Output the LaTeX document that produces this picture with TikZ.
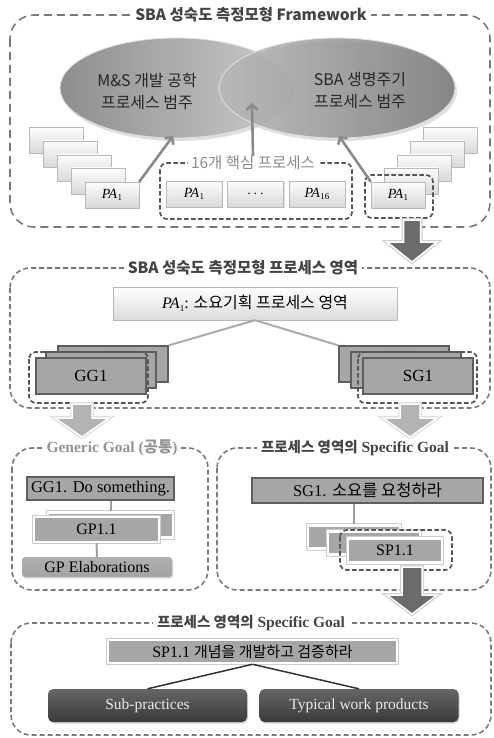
\documentclass[tikz,border=0pt]{standalone}
\usepackage{fontspec}
\setmainfont{Liberation Serif}
\newfontfamily\kr{Noto Sans CJK KR}
\usetikzlibrary{shadows,arrows.meta}
\definecolor{frm}{HTML}{7A7A7A}
\definecolor{grp}{HTML}{555555}
\definecolor{ttlc}{HTML}{444444}
\definecolor{midbox}{HTML}{A6A6A6}
\definecolor{midedge}{HTML}{5E5E5E}
\definecolor{ellLa}{HTML}{8E8E8E}
\definecolor{ellLb}{HTML}{CCCCCC}
\definecolor{ellRa}{HTML}{B8B8B8}
\definecolor{ellRb}{HTML}{737373}
\definecolor{arrD}{HTML}{6B6B6B}
\definecolor{arrL}{HTML}{B3B3B3}
\definecolor{conn}{HTML}{8A8A8A}
\newcommand\pasub[1]{{\rmfamily\textit{PA}\kern0.3pt\raisebox{-0.35ex}{\fontsize{9}{9}\selectfont #1}}}
\newcommand\barrow[7]{\path[#1] ({#2-#6},#3) -- ({#2+#6},#3) -- ({#2+#6},#4) -- ({#2+#7},#4) -- (#2,#5) -- ({#2-#7},#4) -- ({#2-#6},#4) -- cycle;}
\begin{document}
\begin{tikzpicture}[x=1pt,y=-1pt,
 frame/.style={draw=frm, line width=1.6pt, dash pattern=on 5pt off 3pt, rounded corners=20pt},
 ttl/.style={fill=white, inner xsep=4pt, inner ysep=1pt, text=ttlc, font=\kr\bfseries\fontsize{15.5}{17}\selectfont},
 ttlb/.style={fill=white, inner xsep=4pt, inner ysep=1pt, text=ttlc, font=\fontsize{15.5}{17}\selectfont},
 grpbox/.style={draw=grp, line width=1.7pt, dash pattern=on 4.5pt off 2.5pt, rounded corners=7pt},
 lbox/.style={draw=gray!55, top color=gray!2, bottom color=gray!30, minimum width=54pt, minimum height=26pt, inner sep=0pt, font=\fontsize{14}{14}\selectfont, drop shadow={shadow xshift=1.2pt, shadow yshift=-1.2pt, opacity=0.25}},
 ellt/.style={align=center, text=black!85, font=\kr\fontsize{16}{22}\selectfont},
 cline/.style={draw=conn, line width=2.6pt, -{Straight Barb[length=5pt, width=11pt]}},
 darr/.style={fill=arrD, draw=white, line width=1.5pt, preaction={draw=gray!35, line width=4pt}},
 larr/.style={fill=arrL, draw=white, line width=1.5pt, preaction={draw=gray!25, line width=4pt}},
 pabox/.style={draw=gray!55, top color=white, bottom color=gray!28, minimum width=284pt, minimum height=33pt, inner sep=0pt, font=\kr\fontsize{16}{16}\selectfont, drop shadow={shadow xshift=1.2pt, shadow yshift=-1.2pt, opacity=0.25}},
 gbox/.style={draw=midedge, fill=midbox, line width=1.2pt, minimum width=110pt, minimum height=36pt, inner sep=0pt, font=\fontsize{17}{17}\selectfont},
 pline/.style={draw=gray!65, line width=2pt},
 pline2/.style={draw=gray!75, line width=2pt},
 gg/.style={draw=midedge, fill=midbox, line width=1.2pt, inner sep=0pt, font=\fontsize{16.5}{16.5}\selectfont},
 wbox/.style={fill=midbox, draw=white, line width=2.5pt, inner sep=0pt, font=\fontsize{16}{16}\selectfont, preaction={draw=gray!40, line width=4.5pt}},
 dbox/.style={top color=gray!62, bottom color=gray!128!black, rounded corners=3pt, inner sep=0pt, font=\fontsize{16}{16}\selectfont, drop shadow={shadow xshift=1pt, shadow yshift=-1.5pt, opacity=0.3}},
 ddbox/.style={top color=gray!80!black, bottom color=gray!45!black, rounded corners=5pt, inner sep=0pt, text=white!92!black, minimum width=199pt, minimum height=33pt, font=\fontsize{15.5}{15.5}\selectfont, drop shadow={shadow xshift=1pt, shadow yshift=-1.5pt, opacity=0.35}}
]
\useasboundingbox[fill=white] (0,0) rectangle (494,738);

% ---------------- Section 1 ----------------
\draw[frame, dash pattern=on 8pt off 5pt, rounded corners=24pt] (10,15) rectangle (490,227);
\node[ttl] (t1) at (251,15) {SBA 성숙도 측정모형 Framework};

\fill[gray, opacity=0.25] (178,91) ellipse [x radius=116, y radius=50];
\fill[gray, opacity=0.25] (339,91) ellipse [x radius=118, y radius=50];
\path[draw=gray!25, line width=0.8pt, left color=ellLa, right color=ellLb] (176,88) ellipse [x radius=116, y radius=50];
\path[draw=gray!25, line width=0.8pt, left color=ellRa, right color=ellRb, fill opacity=0.82] (337,88) ellipse [x radius=118, y radius=50];
\node[ellt] (m1) at (147,91) {M\&S 개발 공학\\프로세스 범주};
\node[ellt] (m2) at (360,91) {SBA 생명주기\\프로세스 범주};
\coordinate (eL) at (173,136);
\coordinate (eC) at (252,103);
\coordinate (eR) at (339,136);

\node[lbox] (l1) at (56,140) {};
\node[lbox] (l2) at (70,154) {};
\node[lbox] (l3) at (84,168) {};
\node[lbox] (l4) at (98,181) {};
\node[lbox] (l5) at (112,195) {\pasub{1}};

\node[lbox] (r1) at (450,140) {};
\node[lbox] (r2) at (437,154) {};
\node[lbox] (r3) at (424,168) {};
\node[lbox] (r4) at (411,181) {};
\node[lbox] (r5) at (398,195) {\pasub{1}};
\draw[grpbox] (365,175) rectangle (433,218);

\node[lbox, minimum width=56pt] (c1) at (194,194) {\pasub{1}};
\node[lbox, minimum width=56pt] (c2) at (255.5,194) {$\cdots$};
\node[lbox, minimum width=56pt] (c3) at (317,194) {\pasub{16}};
\draw[grpbox] (160,163) rectangle (352,219);
\node[fill=white, inner xsep=3pt, inner ysep=0pt, text=gray!90, font=\kr\fontsize{15.5}{16}\selectfont] (g16) at (253,163) {16개 핵심 프로세스};

\draw[cline] (l5.north east) -- (eL);
\draw[cline] (g16.north) -- (eC);
\draw[cline] (r5.north west) -- (eR);

% ---------------- Section 2 ----------------
\draw[frame] (10,268) rectangle (490,408);
\node[ttl] (t2) at (243,268) {SBA 성숙도 측정모형 프로세스 영역};
\barrow{darr}{412}{220}{242}{262}{8.5}{25}

\node[pabox] (pa) at (255,303.5) {\pasub{1}{\rmfamily :} {\kr 소요기획 프로세스 영역}};

\node[gbox] (gb1) at (113,364) {};
\node[gbox] (gb2) at (101,370) {};
\node[gbox] (gb3) at (91,376) {GG1};
\draw[grpbox] (29,352) rectangle (148,403);

\node[gbox] (sb1) at (394,364) {};
\node[gbox] (sb2) at (406,370) {};
\node[gbox] (sb3) at (418,376) {SG1};
\draw[grpbox] (358,352) rectangle (477,403);

\draw[pline] (pa.south) -- (gb1.north east);
\draw[pline] (pa.south) -- (sb1.north west);

% ---------------- Section 3 ----------------
\draw[frame] (12,448) rectangle (208,590);
\node[ttlb, text=gray!85] (t3a) at (112,448) {\bfseries Generic Goal ({\kr 공통})};
\draw[frame] (217,448) rectangle (491,590);
\node[ttlb] (t3b) at (355,448) {{\kr\bfseries\fontsize{14.5}{16}\selectfont 프로세스 영역의} \textbf{Specific Goal}};

\barrow{larr}{82}{404}{418}{437}{10}{27}
\barrow{larr}{410}{404}{418}{437}{10}{27}

\node[gg, minimum width=147pt, minimum height=23pt] (gg) at (100.5,488.5) {GG1. Do something.};
\node[wbox, minimum width=125pt, minimum height=25pt] (gp1) at (110.5,525) {};
\node[wbox, minimum width=125pt, minimum height=25pt] (gp2) at (96.5,529.5) {GP1.1};
\node[dbox, minimum width=150pt, minimum height=20pt] (ge) at (97,567) {GP Elaborations};
\draw[pline2] (gp1.north |- gg.south) -- (gp1.north);
\draw[pline2] (gp2.south) -- (ge.north);

\node[gg, minimum width=231pt, minimum height=25pt] (sg) at (367.5,490.5) {SG1. {\kr\fontsize{16.5}{16.5}\selectfont 소요를 요청하라}};
\node[wbox, minimum width=92pt, minimum height=23pt] (sp1) at (354,537) {};
\node[wbox, minimum width=92pt, minimum height=23pt] (sp2) at (374,543) {};
\node[wbox, minimum width=94pt, minimum height=24pt] (sp3) at (395,550.5) {SP1.1};
\draw[grpbox] (340,530) rectangle (452,570);
\draw[pline2] (sp1.north |- sg.south) -- (sp1.north);

% ---------------- Section 4 ----------------
\barrow{darr}{412}{567}{595}{614}{10}{25}
\draw[frame] (11,623) rectangle (491,735);
\node[ttlb] (t4) at (251,623) {{\kr\bfseries\fontsize{14.5}{16}\selectfont 프로세스 영역의} \textbf{Specific Goal}};

\node[wbox, minimum width=289pt, minimum height=23pt] (sp) at (252.5,651.5) {SP1.1 {\kr\fontsize{15}{15}\selectfont 개념을 개발하고 검증하라}};
\node[ddbox] (sub) at (147.5,705.5) {Sub-practices};
\node[ddbox] (typ) at (359,705.5) {Typical work products};
\draw[draw=gray!40!black, line width=1.5pt] (sp.south) -- (sub.north);
\draw[draw=gray!40!black, line width=1.5pt] (sp.south) -- (typ.north);
\end{tikzpicture}
\end{document}
